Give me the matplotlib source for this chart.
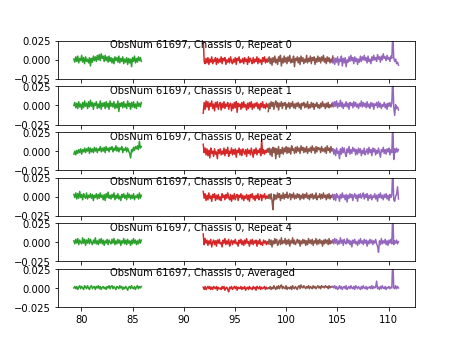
import numpy as np
import matplotlib
matplotlib.use("Agg")
import matplotlib.pyplot as plt

# bandas de frecuencia (GHz) de cada tarjeta
bands = [(79.27, 85.86), (91.9, 98.25), (98.25, 104.55), (104.55, 110.96)]
colors = ['tab:green', 'tab:red', 'tab:brown', 'tab:purple']

titles = ['ObsNum 61697, Chassis 0, Repeat 0',
          'ObsNum 61697, Chassis 0, Repeat 1',
          'ObsNum 61697, Chassis 0, Repeat 2',
          'ObsNum 61697, Chassis 0, Repeat 3',
          'ObsNum 61697, Chassis 0, Repeat 4',
          'ObsNum 61697, Chassis 0, Averaged']

# espectros, en unidades de 1e-3
rep0 = [
    [1,-3,4,-2,5,-4,2,-1,6,-3,3,-5,4,-2,1,-4,3,-8,2,-3,5,-1,4,-2,6,0,7,-1,8,2,5,-2,6,-1,4,-3,5,-2,3,-4,2,-5,4,-1,3,-3,5,-4,2,-2,4,-5,1,-3,3,-6,2,-4,1,-9,3,-2,5,-4,2,-3,4,-1,3,-2],
    [30,-2,-5,2,-4,3,-6,1,-3,4,-5,0,-2,3,-6,2,-4,1,-3,4,-5,2,-1,3,-6,0,-3,2,-4,4,-2,-5,1,-3,3,-6,2,-1,4,-4,0,-3,2,-5,3,-2,1,-6,4,-3,2,-1,-5,3,-4,1,-2,4,-5,2,-3,0,-6,3,-2,4,-4,1,-3,2],
    [-2,4,-5,2,-7,3,-3,5,-4,1,-6,4,-2,6,-8,2,-4,5,-3,3,-5,4,-2,6,-4,1,-3,5,-9,2,-1,4,-4,3,-6,5,-2,3,-5,1,-3,6,-4,2,-2,5,-5,3,-1,4,-6,2,-3,5,-2,3,-4,4,-1,6,-3,2,-5,4,-2,3,-4,1,-3,5],
    [-4,3,-6,2,-3,4,-7,1,-2,5,-8,2,-4,3,-9,0,-3,4,-2,6,-1,3,-5,4,-2,2,-6,1,-3,5,-2,4,0,6,-1,3,-4,5,-2,1,-5,4,-1,6,0,3,-2,7,1,4,-3,5,0,8,2,4,-1,6,1,3,-2,5,2,35,3,-2,1,-5,-3,-7],
]
rep1 = [
    [0,4,-3,3,-4,5,-2,2,-5,4,-3,6,-1,3,-4,5,-2,7,-1,4,-5,3,0,5,-4,2,-3,6,-5,3,-1,4,-4,5,-2,3,-5,6,-1,3,-2,5,-4,2,-3,6,-8,3,-1,4,-3,5,-2,2,-4,6,-1,3,-5,4,-2,5,-3,2,-4,5,-1,3,-2,4],
    [-10,4,-5,6,-2,5,-6,3,-1,6,-4,2,-7,4,-2,5,-5,1,4,-6,3,-3,5,-4,2,-1,4,-5,1,3,-7,2,-4,4,-3,5,-9,3,-1,2,-5,4,-3,5,-2,1,-6,3,-4,4,-2,5,-5,2,-3,3,-1,4,-4,2,-6,3,-2,5,-3,1,-4,3,-2,1],
    [-8,3,-4,5,-1,4,-5,2,6,-2,4,-6,3,-1,5,-4,3,0,4,-5,2,-2,4,-4,3,-1,5,-3,2,-4,3,-1,4,-3,2,-5,3,0,4,-3,2,-2,5,-4,1,-3,4,-2,3,-5,2,-1,4,-3,1,-4,3,-2,5,-1,2,-4,3,-2,4,-3,1,-2,3,-1],
    [4,-2,5,-1,6,-3,3,-1,7,-2,4,-4,2,-1,5,-2,3,-5,4,0,3,-3,5,-1,4,-2,2,-4,3,-1,6,-2,4,-1,3,-3,5,-2,2,-4,4,-1,3,-5,2,0,4,-3,5,-2,3,-4,1,-1,4,-3,2,-5,3,-1,4,-2,3,40,-2,-13,1,-4,-2,-6],
]
rep2 = [
    [-4,0,-5,1,-3,2,-2,3,-4,2,-1,4,-2,3,0,5,-3,4,-1,3,-2,5,0,4,-2,3,1,6,-1,4,0,5,-2,6,1,4,-1,5,2,6,-1,4,1,7,0,5,-1,4,2,6,-2,3,1,5,-1,4,0,-3,-9,2,-1,5,1,6,3,7,2,13,4,6],
    [9,-2,4,-5,3,-6,1,-9,4,-3,0,-7,3,-4,-1,-10,2,-3,3,-5,0,-4,4,-6,2,-3,5,-7,0,-3,4,-5,2,-4,3,-8,1,-2,4,-5,2,-6,3,-1,-4,2,-7,3,-3,1,-5,4,-2,-8,2,-3,4,-5,1,-2,3,-6,15,-3,2,-4,1,-2,3,-1],
    [-1,4,-5,3,-7,5,-2,4,-10,3,-4,6,-8,2,-3,5,-4,4,-1,6,-3,5,-2,4,-4,7,1,3,-3,5,-2,6,0,4,-3,7,1,5,-2,4,-1,6,-3,3,0,5,-2,7,1,4,-3,6,-1,5,2,4,-2,6,0,3,-1,5,-3,7,1,4,-2,6,0,3],
    [3,-4,2,-6,4,-3,0,-10,3,-4,5,-2,4,-3,-7,3,-2,6,-4,2,-3,5,0,3,-5,2,-4,4,-2,3,-6,1,-3,4,-5,-1,3,-4,5,-2,2,-6,4,-1,3,-5,1,-3,4,-2,-8,2,-1,5,-3,2,-4,3,-1,4,-5,2,-2,40,-11,3,-2,4,-1,2],
]
rep3 = [
    [3,-1,5,-3,4,-2,7,-1,3,-4,4,0,-2,5,-3,2,-1,4,-2,3,-5,2,-1,4,-3,3,-2,5,-1,2,-4,3,-5,4,-1,6,-2,2,-3,3,-1,5,-4,2,-2,4,-3,1,-5,3,-1,4,-2,2,-4,5,-1,3,-3,2,-2,4,-4,1,-1,3,-3,5,-2,2],
    [7,-2,4,-5,2,-4,5,-2,1,-6,3,-1,4,-5,2,-3,3,-4,0,-5,4,-1,2,-4,3,-2,5,-1,-4,3,-6,2,-3,4,-4,1,3,-5,2,-1,4,-3,2,-5,1,-2,3,-4,2,-6,3,-1,4,-3,1,-5,2,-2,4,-4,0,3,-5,2,-1,4,-3,1,-2,2],
    [-2,3,-3,4,-5,-17,3,-4,2,-3,5,-1,4,-5,2,-2,5,-3,3,-1,6,-2,1,4,-4,3,-1,5,-3,2,-2,4,-1,3,-4,2,-2,4,-3,3,-1,5,-2,2,-4,3,-1,4,-3,2,-2,5,-4,1,-1,4,-3,3,-2,5,-1,2,-4,3,-2,4,-3,2,-1,3],
    [2,-4,3,-5,4,-1,1,-6,3,-2,5,-1,2,-4,3,-7,2,-2,4,-1,3,-5,1,4,-2,2,-6,3,-1,4,-2,1,5,-3,3,-1,4,-5,2,-2,3,-4,1,-1,4,-3,2,-6,3,-1,5,-2,2,-4,3,-1,4,-3,2,-5,3,-1,2,40,-4,-6,1,3,13,-3],
]
rep4 = [
    [2,-2,4,-1,5,-3,3,0,-2,6,-1,4,-4,3,-1,5,-2,4,0,-3,3,-1,6,-2,2,-3,4,-1,5,-2,3,-4,2,-1,4,-3,3,0,-2,4,-1,5,-3,2,-2,4,-1,3,-4,2,-1,5,-2,3,-3,4,-1,2,-4,3,-2,5,-1,3,-3,2,-2,4,-1,3],
    [11,-3,5,-1,3,-4,2,-2,4,-6,0,3,-3,2,-5,3,-1,4,-2,0,-6,3,-1,5,-3,2,-2,4,-5,0,3,-3,2,-1,4,-2,0,-5,3,-1,4,-3,2,-4,3,-2,5,-1,1,-5,3,-2,4,-3,2,-1,3,-5,2,-2,4,-3,0,-4,3,-1,2,-3,1,-2],
    [-1,4,-3,3,-6,2,-2,5,-1,4,-4,0,3,-3,6,-2,2,-1,5,-3,3,-2,4,-5,2,-1,6,-2,3,-3,0,4,-1,3,-5,2,-2,4,-1,3,-4,2,-3,5,-1,3,-2,4,-4,2,-1,5,-3,3,-2,4,-1,2,-5,3,-2,4,-1,3,-3,5,-2,2,-1,3],
    [3,-2,5,-1,4,-3,2,-2,6,-1,3,-4,4,0,-2,5,-1,3,-3,2,-6,3,-1,4,-2,1,-4,3,-2,5,-1,2,-3,4,-1,3,-5,2,-2,4,-1,3,-3,2,-1,4,-2,-5,-13,2,-3,5,-2,2,-1,4,-3,2,-4,3,-1,4,-2,40,-3,2,-1,3,-2,1],
]
aver = [
    [0,2,-1,2,-2,1,3,-1,2,0,-2,3,1,-1,3,0,-2,2,3,-1,1,2,-2,2,0,3,-1,2,-2,1,2,-1,1,-2,2,0,3,-1,2,3,-1,2,0,-2,2,1,-1,3,0,2,-2,1,-1,2,0,-3,1,2,-1,3,0,-1,2,-2,1,3,-1,2,0,2],
    [1,-2,2,-2,0,2,-1,2,-2,1,-2,2,0,-1,2,-3,1,-1,0,-2,2,-1,2,-3,0,1,-2,-5,1,-1,2,-2,0,2,-1,2,-3,1,0,-1,2,-2,1,-1,2,-3,0,1,-2,2,-1,0,-2,2,-1,1,-3,2,0,-1,2,-2,1,-1,0,2,-2,1,-1,0],
    [0,-1,2,-2,1,-1,3,0,-2,2,-1,3,-1,2,4,-1,2,0,-1,3,-2,1,0,-1,2,-2,3,0,-1,2,0,-2,2,3,-1,4,1,0,3,1,-1,2,0,3,-1,2,1,-1,3,0,2,-1,1,3,0,2,-1,3,1,2,0,3,1,2,-1,3,0,2,1,2],
    [2,0,3,-1,2,-2,0,3,-1,2,-2,1,2,-1,3,-2,0,2,-1,3,0,-1,2,-2,3,1,-1,2,0,-2,2,-1,3,0,-1,2,-2,1,0,2,-1,3,-1,2,0,1,9,-1,1,-2,2,-1,3,0,-1,2,-2,1,0,2,-1,1,0,40,0,-1,3,-1,2,0],
]
spectra = [rep0, rep1, rep2, rep3, rep4, aver]

fig = plt.figure(figsize=(6.4, 4.8), dpi=72)
axs = fig.subplots(6, 1, sharex=True)

for ax, title, spec in zip(axs, titles, spectra):
    for (f0, f1), c, vals in zip(bands, colors, spec):
        f = np.linspace(f0, f1, len(vals))
        ax.plot(f, np.array(vals) * 1e-3, color=c)
    ax.set_ylim(-0.025, 0.025)
    ax.set_yticks([-0.025, 0.0, 0.025])
    ax.text(0.146, 1.03, title, transform=ax.transAxes, va='top', ha='left', fontsize=10)

fig.savefig('out.png', dpi=72)
